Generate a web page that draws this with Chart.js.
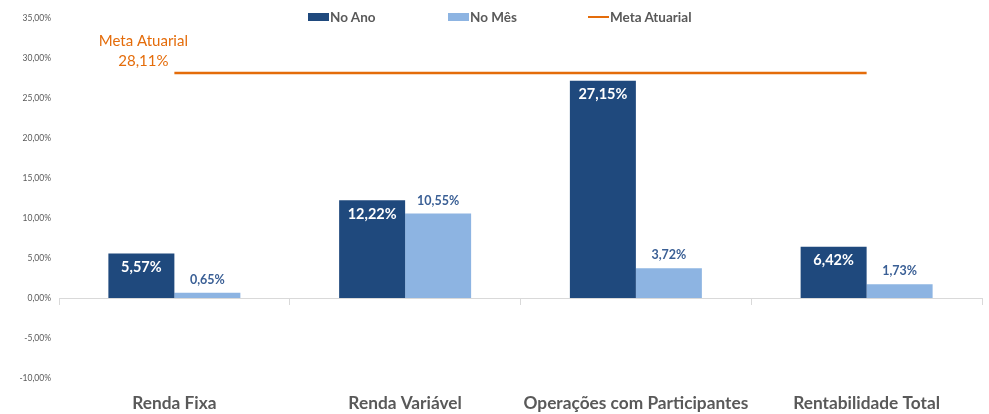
<!DOCTYPE html>
<html>
<head>
<meta charset="utf-8">
<script src="https://cdn.jsdelivr.net/npm/chart.js@4/dist/chart.umd.min.js"></script>
<style>
  body { margin: 0; background: #fff; }
  #wrap { position: relative; width: 989px; height: 414px; }
  #legend { position: absolute; left: 308px; top: 9px; margin: 0; padding: 0; list-style: none; display: flex;
            font: bold 13.5px Lato, sans-serif; color: #595959; }
  #legend li { display: flex; align-items: center; width: 140px; white-space: nowrap; }
  #legend li:last-child { width: auto; }
  #legend span.box { display: inline-block; width: 21px; margin-right: 1px; }
</style>
</head>
<body>
<div id="wrap">
  <canvas id="chart" width="989" height="414"></canvas>
  <ul id="legend"></ul>
</div>
<script>
'use strict'

var categories = ['Renda Fixa', 'Renda Variável', 'Operações com Participantes', 'Rentabilidade Total']
var noAno = [5.57, 12.22, 27.15, 6.42]
var noMes = [0.65, 10.55, 3.72, 1.73]
var metaAtuarial = [28.11, 28.11, 28.11, 28.11]
var metaLabel = ['Meta Atuarial', '28,11%']

var darkBlue = '#1F497D'
var lightBlue = '#8DB4E2'
var orange = '#E46C0A'
var gray = '#595959'

function pct(v) {
  return v.toFixed(2).replace('.', ',') + '%'
}

// bar value labels + meta atuarial caption
var valueLabels = {
  id: 'valueLabels',
  afterDatasetsDraw(chart) {
    var ctx = chart.ctx
    ctx.save()
    ctx.textAlign = 'center'
    ctx.textBaseline = 'middle'

    chart.getDatasetMeta(0).data.forEach(function(bar, i) {
      ctx.font = 'bold 14.5px Lato'
      ctx.fillStyle = '#FFFFFF'
      ctx.fillText(pct(noAno[i]), bar.x, bar.y + 14)
    })
    chart.getDatasetMeta(1).data.forEach(function(bar, i) {
      ctx.font = 'bold 12.5px Lato'
      ctx.fillStyle = '#3A5F95'
      ctx.fillText(pct(noMes[i]), bar.x, bar.y - 13)
    })

    var p = chart.getDatasetMeta(2).data[0]
    ctx.font = '15px Lato'
    ctx.fillStyle = orange
    ctx.fillText(metaLabel[0], p.x - 31, p.y - 32)
    ctx.fillText(metaLabel[1], p.x - 31, p.y - 12)
    ctx.restore()
  }
}

var htmlLegend = {
  id: 'htmlLegend',
  afterUpdate(chart) {
    var ul = document.getElementById('legend')
    ul.innerHTML = ''
    chart.data.datasets.forEach(function(ds) {
      var li = document.createElement('li')
      var box = document.createElement('span')
      box.className = 'box'
      if (ds.type === 'line') {
        box.style.height = '2.5px'
        box.style.background = ds.borderColor
      } else {
        box.style.height = '8px'
        box.style.background = ds.backgroundColor
      }
      li.appendChild(box)
      li.appendChild(document.createTextNode(ds.label))
      ul.appendChild(li)
    })
  }
}

var chart = new Chart(document.getElementById('chart').getContext('2d'), {
  type: 'bar',
  data: {
    labels: categories,
    datasets: [
      { label: 'No Ano', data: noAno, backgroundColor: darkBlue, xAxisID: 'x', order: 1,
        barPercentage: 1, categoryPercentage: 0.572 },
      { label: 'No Mês', data: noMes, backgroundColor: lightBlue, xAxisID: 'x', order: 1,
        barPercentage: 1, categoryPercentage: 0.572 },
      { type: 'line', label: 'Meta Atuarial', data: metaAtuarial, borderColor: orange, borderWidth: 2.5,
        pointRadius: 0, fill: false, xAxisID: 'x', order: 0 }
    ]
  },
  options: {
    responsive: false,
    animation: false,
    layout: { padding: { top: 18, right: 7, left: 0, bottom: 0 } },
    plugins: {
      legend: { display: false },
      tooltip: { enabled: false }
    },
    scales: {
      x: {
        position: 'bottom',
        offset: true,
        grid: { display: false, drawTicks: false },
        border: { display: false },
        ticks: { color: gray, padding: 15, autoSkip: false, maxRotation: 0, minRotation: 0,
                 font: { family: 'Lato', size: 17.3, weight: 'bold' } },
        afterFit: function(scale) { scale.height = 36 }
      },
      x0: {
        type: 'category',
        labels: categories,
        position: { y: 0 },
        offset: true,
        grid: { offset: true, drawOnChartArea: false, drawTicks: true, tickLength: 6, color: '#D9D9D9' },
        border: { display: true, color: '#D9D9D9' },
        ticks: { display: false }
      },
      y: {
        min: -10,
        max: 35,
        grid: { display: false, drawTicks: false },
        border: { display: false },
        ticks: { stepSize: 5, color: gray, padding: 8, font: { family: 'Lato', size: 8.5 },
                 callback: function(v) { return pct(v) } },
        afterFit: function(scale) { scale.width = 59 }
      }
    }
  },
  plugins: [valueLabels, htmlLegend]
})
</script>
</body>
</html>
